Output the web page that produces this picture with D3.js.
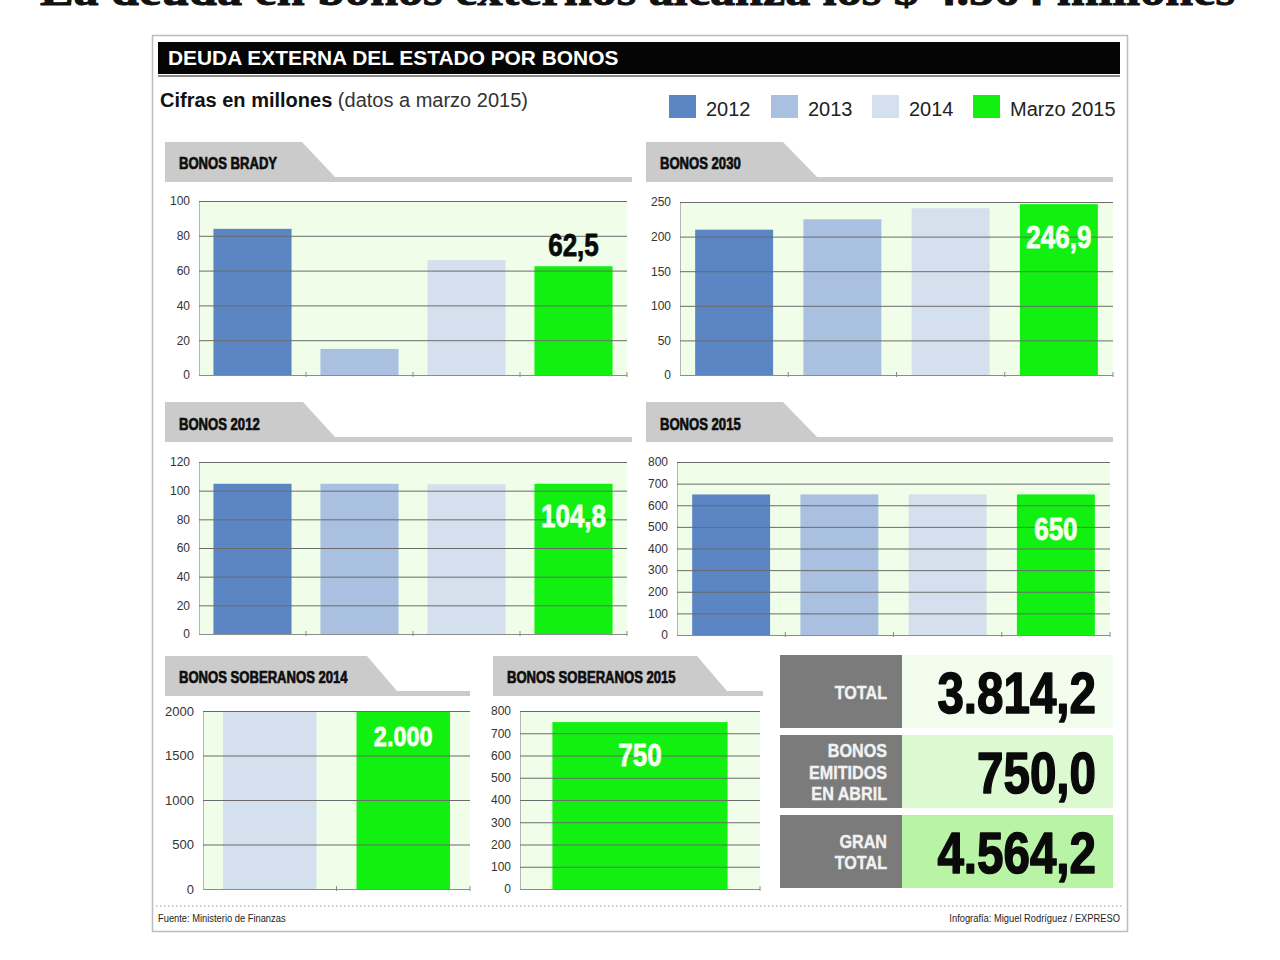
<!DOCTYPE html>
<html>
<head>
<meta charset="utf-8">
<script src="https://cdn.jsdelivr.net/npm/d3@7"></script>
<style>
  html, body { margin: 0; padding: 0; background: #ffffff; }
  svg { display: block; }
  .cond { font-family: "Liberation Sans", Arial, sans-serif; font-weight: bold; }
</style>
</head>
<body>
<svg id="chart" width="1280" height="960"></svg>
<script>
// ---------------- DATA ----------------
const headline = "La deuda en bonos externos alcanza los $ 4.564 millones";
const mainTitle = "DEUDA EXTERNA DEL ESTADO POR BONOS";
const subtitleBold = "Cifras en millones";
const subtitleRest = "(datos a marzo 2015)";
const years = ["2012", "2013", "2014", "Marzo 2015"];
const yearColors = ["#5b86c3", "#a9c0e1", "#d5e0ef", "#11f011"];

const bradyValues = [84, 15, 66, 62.5];
const bradyTicks = [0, 20, 40, 60, 80, 100];
const bonos2030Values = [210, 225, 241, 246.9];
const bonos2030Ticks = [0, 50, 100, 150, 200, 250];
const bonos2012Values = [104.8, 104.8, 104.5, 104.8];
const bonos2012Ticks = [0, 20, 40, 60, 80, 100, 120];
const bonos2015Values = [650, 650, 650, 650];
const bonos2015Ticks = [0, 100, 200, 300, 400, 500, 600, 700, 800];
const sob2014Cats = ["2014", "Marzo 2015"];
const sob2014Values = [2000, 2000];
const sob2014Ticks = [0, 500, 1000, 1500, 2000];
const sob2015Cats = ["Marzo 2015"];
const sob2015Values = [750];
const sob2015Ticks = [0, 100, 200, 300, 400, 500, 600, 700, 800];

const totalLabels = [["TOTAL"], ["BONOS", "EMITIDOS", "EN ABRIL"], ["GRAN", "TOTAL"]];
const totalValues = ["3.814,2", "750,0", "4.564,2"];
const sourceText = "Fuente: Ministerio de Finanzas";
const creditText = "Infografía: Miguel Rodríguez / EXPRESO";

// ---------------- DRAW ----------------
const svg = d3.select("#chart");
const color = d3.scaleOrdinal().domain(years).range(yearColors);

// condensed bold text helper (optional stroke to make it heavier)
function condText(parent, x, y, str, size, sx, anchor, fill, heavy) {
  const t = parent.append("text").attr("class", "cond")
    .attr("transform", `translate(${x},${y}) scale(${sx},1)`)
    .attr("text-anchor", anchor || "start")
    .style("font-size", size + "px").attr("fill", fill || "#111").text(str);
  if (heavy) t.attr("stroke", fill || "#111").attr("stroke-width", heavy).attr("stroke-linejoin", "round");
  return t;
}

// headline (cut off at top)
svg.append("text")
  .attr("x", 40).attr("y", 5)
  .attr("textLength", 1195).attr("lengthAdjust", "spacingAndGlyphs")
  .style("font-family", "'Liberation Serif', 'DejaVu Serif', serif")
  .style("font-weight", "bold").style("font-size", "44px")
  .attr("fill", "#111").attr("stroke", "#111").attr("stroke-width", 1)
  .text(headline);

// outer frame
svg.append("rect").attr("x", 152.5).attr("y", 35.5).attr("width", 975).attr("height", 896)
  .attr("fill", "#fff").attr("stroke", "#bdbdbd").attr("stroke-width", 1.5);

// title bar
svg.append("rect").attr("x", 158).attr("y", 42).attr("width", 962).attr("height", 32).attr("fill", "#050505");
svg.append("rect").attr("x", 158).attr("y", 75).attr("width", 962).attr("height", 2).attr("fill", "#8a8a8a");
condText(svg, 168, 65, mainTitle, 20.5, 1.02, "start", "#fff");

// subtitle
const sub = svg.append("text").attr("x", 160).attr("y", 107)
  .style("font-family", "'Liberation Sans', Arial, sans-serif").style("font-size", "20px").attr("fill", "#111");
sub.append("tspan").style("font-weight", "bold").text(subtitleBold + " ");
sub.append("tspan").attr("fill", "#333").text(subtitleRest);

// legend
const legendX = [669, 771, 872, 973];
const lg = svg.append("g");
years.forEach((yr, i) => {
  lg.append("rect").attr("x", legendX[i]).attr("y", 95).attr("width", 27).attr("height", 23).attr("fill", color(yr));
  lg.append("text").attr("x", legendX[i] + 37).attr("y", 116)
    .style("font-family", "'Liberation Sans', Arial, sans-serif").style("font-size", "20px")
    .attr("fill", "#222").text(yr);
});

function header(h, title) {
  const g = svg.append("g");
  const pts = [[h.x, h.top], [h.tabTop, h.top], [h.tabBot, h.bot], [h.lineEnd, h.bot],
               [h.lineEnd, h.bot + 5], [h.x, h.bot + 5]];
  g.append("polygon").attr("points", pts.map(p => p.join(",")).join(" ")).attr("fill", "#cbcbcb");
  condText(g, h.x + 14, h.base, title, 17, 0.77, "start", "#0d0d0d", 0.7);
}

function panel(cfg) {
  header(cfg.h, cfg.title);
  const p = cfg.plot;
  const g = svg.append("g");
  const x = d3.scaleBand().domain(cfg.cats).range([p.x0, p.x1])
    .paddingInner(cfg.pad).paddingOuter(cfg.pad / 2);
  const y = d3.scaleLinear().domain([0, d3.max(cfg.ticks)]).range([p.y1, p.y0]);

  // background
  g.append("rect").attr("x", p.x0).attr("y", p.y0).attr("width", p.x1 - p.x0).attr("height", p.y1 - p.y0)
    .attr("fill", "#effde9");

  // bars
  g.selectAll("rect.bar").data(cfg.cats).join("rect").attr("class", "bar")
    .attr("x", d => x(d)).attr("width", x.bandwidth())
    .attr("y", (d, i) => y(cfg.values[i])).attr("height", (d, i) => y(0) - y(cfg.values[i]))
    .attr("fill", d => color(d));

  // y axis + grid
  const ya = g.append("g").attr("transform", `translate(${p.x0},0)`)
    .call(d3.axisLeft(y).tickValues(cfg.ticks).tickSize(-(p.x1 - p.x0)).tickPadding(9).tickFormat(d3.format("d")));
  ya.select(".domain").attr("stroke", "#b5b5b5");
  ya.selectAll(".tick line").attr("stroke", "#6b6b6b").attr("stroke-width", 1);
  ya.selectAll(".tick text").attr("fill", "#333")
    .style("font-family", "'Liberation Sans', Arial, sans-serif").style("font-size", cfg.tickSize || "12px");

  // x axis line with boundary ticks
  g.append("line").attr("x1", p.x0).attr("x2", p.x1).attr("y1", y(0) + 0.5).attr("y2", y(0) + 0.5)
    .attr("stroke", "#8c8c8c");
  const bounds = d3.range(1, cfg.cats.length + 1).map(i => p.x0 + i * x.step());
  g.selectAll("line.bt").data(bounds).join("line").attr("class", "bt")
    .attr("x1", d => d).attr("x2", d => d).attr("y1", y(0) - 3).attr("y2", y(0) + 2)
    .attr("stroke", "#8c8c8c");

  // value label on last bar
  const last = cfg.cats[cfg.cats.length - 1];
  const lv = cfg.values[cfg.values.length - 1];
  condText(g, x(last) + x.bandwidth() / 2,
    cfg.labelOutside ? y(lv) - 10 : y(lv) + cfg.labelDy,
    cfg.label, cfg.labelSize || 31, 0.84, "middle",
    cfg.labelOutside ? "#0a0a0a" : "#f4fff0", 0.8);
}

panel({ title: "BONOS BRADY", cats: years, values: bradyValues, ticks: bradyTicks, pad: 0.27,
  h: { x: 165, top: 142, tabTop: 302, tabBot: 335, bot: 177, lineEnd: 632, base: 169 },
  plot: { x0: 199, x1: 627, y0: 201, y1: 375 }, label: "62,5", labelOutside: true });

panel({ title: "BONOS 2030", cats: years, values: bonos2030Values, ticks: bonos2030Ticks, pad: 0.28,
  h: { x: 646, top: 142, tabTop: 783, tabBot: 817, bot: 177, lineEnd: 1113, base: 169 },
  plot: { x0: 680, x1: 1113, y0: 202, y1: 375 }, label: "246,9", labelDy: 44 });

panel({ title: "BONOS 2012", cats: years, values: bonos2012Values, ticks: bonos2012Ticks, pad: 0.27,
  h: { x: 165, top: 402, tabTop: 303, tabBot: 335, bot: 437, lineEnd: 632, base: 430 },
  plot: { x0: 199, x1: 627, y0: 462, y1: 634 }, label: "104,8", labelDy: 43 });

panel({ title: "BONOS 2015", cats: years, values: bonos2015Values, ticks: bonos2015Ticks, pad: 0.28,
  h: { x: 646, top: 402, tabTop: 783, tabBot: 817, bot: 437, lineEnd: 1113, base: 430 },
  plot: { x0: 677, x1: 1110, y0: 462, y1: 635 }, label: "650", labelDy: 46 });

panel({ title: "BONOS SOBERANOS 2014", cats: sob2014Cats, values: sob2014Values, ticks: sob2014Ticks, pad: 0.30,
  h: { x: 165, top: 656, tabTop: 367, tabBot: 397, bot: 691, lineEnd: 470, base: 683 },
  plot: { x0: 203, x1: 470, y0: 711, y1: 889 }, label: "2.000", labelDy: 35, labelSize: 28, tickSize: "13px" });

panel({ title: "BONOS SOBERANOS 2015", cats: sob2015Cats, values: sob2015Values, ticks: sob2015Ticks, pad: 0.27,
  h: { x: 493, top: 656, tabTop: 697, tabBot: 727, bot: 691, lineEnd: 763, base: 683 },
  plot: { x0: 520, x1: 760, y0: 711, y1: 889 }, label: "750", labelDy: 44, tickSize: "12px" });

// totals
const rowY = [655, 735, 815];
const rowH = 73;
const valueBg = ["#f2fdee", "#dbfad2", "#b8f3a6"];
const tg = svg.append("g");
totalValues.forEach((v, i) => {
  tg.append("rect").attr("x", 780).attr("y", rowY[i]).attr("width", 122).attr("height", rowH).attr("fill", "#7b7b7b");
  tg.append("rect").attr("x", 902).attr("y", rowY[i]).attr("width", 211).attr("height", rowH).attr("fill", valueBg[i]);
  const lines = totalLabels[i];
  const lh = 21.5;
  const startY = rowY[i] + rowH / 2 - (lines.length - 1) * lh / 2 + 7;
  lines.forEach((ln, j) => {
    condText(tg, 887, startY + j * lh, ln, 19, 0.85, "end", "#f2f2f2", 0.4);
  });
  condText(tg, 1096, rowY[i] + 58, v, 58, 0.82, "end", "#0a0a0a", 1.6);
});

// footer
svg.append("line").attr("x1", 156).attr("x2", 1122).attr("y1", 906).attr("y2", 906)
  .attr("stroke", "#9a9a9a").attr("stroke-dasharray", "1.5,2.5");
svg.append("text").attr("x", 158).attr("y", 922)
  .attr("transform", "translate(158,922) scale(0.85,1) translate(-158,-922)")
  .style("font-family", "'Liberation Sans', Arial, sans-serif")
  .style("font-size", "11px").attr("fill", "#222").text(sourceText);
svg.append("text").attr("x", 1120).attr("y", 922).attr("text-anchor", "end")
  .attr("transform", "translate(1120,922) scale(0.85,1) translate(-1120,-922)")
  .style("font-family", "'Liberation Sans', Arial, sans-serif")
  .style("font-size", "11px").attr("fill", "#222").text(creditText);
</script>
</body>
</html>
